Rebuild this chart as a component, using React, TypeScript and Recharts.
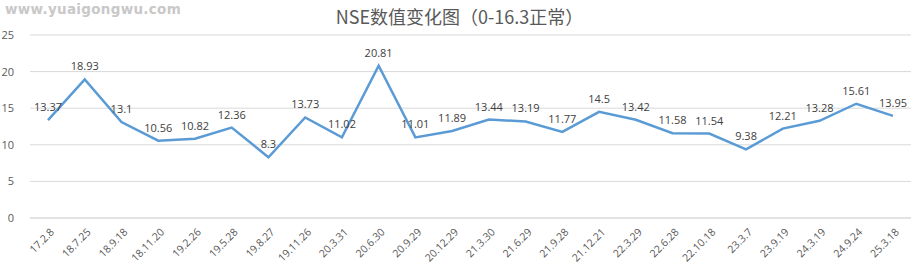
import React from "react";
import { LineChart, Line, CartesianGrid, XAxis, YAxis, LabelList } from "recharts";

const dates = [
  "17.2.8", "18.7.25", "18.9.18", "18.11.20", "19.2.26", "19.5.28", "19.8.27", "19.11.26",
  "20.3.31", "20.6.30", "20.9.29", "20.12.29", "21.3.30", "21.6.29", "21.9.28", "21.12.21",
  "22.3.29", "22.6.28", "22.10.18", "23.3.7", "23.9.19", "24.3.19", "24.9.24", "25.3.18",
];

const nse = [
  13.37, 18.93, 13.1, 10.56, 10.82, 12.36, 8.3, 13.73, 11.02, 20.81, 11.01, 11.89,
  13.44, 13.19, 11.77, 14.5, 13.42, 11.58, 11.54, 9.38, 12.21, 13.28, 15.61, 13.95,
];

const yTicks = [0, 5, 10, 15, 20, 25];

const data = dates.map((d, i) => ({ date: d, value: nse[i] }));

const XTick = (props: any) => {
  const { x, y, payload } = props;
  return (
    <g transform={`translate(${x + 4},${y + 4})`}>
      <text
        transform="rotate(-45)"
        textAnchor="end"
        fontSize={10.5}
        fill="#595959"
        fontFamily="'Open Sans', sans-serif"
        dy={4}
      >
        {payload.value}
      </text>
    </g>
  );
};

export default function App() {
  return (
    <div style={{ position: "absolute", left: 0, top: 0, width: 919, height: 270, background: "#fff" }}>
      <div
        style={{
          position: "absolute",
          left: 5,
          top: 1,
          fontFamily: "'DejaVu Sans', sans-serif",
          fontWeight: "bold",
          fontSize: 13.5,
          color: "#c8c8c8",
          letterSpacing: 0.3,
        }}
      >
        www.yuaigongwu.com
      </div>
      <div
        style={{
          position: "absolute",
          left: 0,
          top: 3,
          width: 919,
          textAlign: "center",
          fontFamily: "'Noto Sans CJK SC', sans-serif",
          fontSize: 18,
          color: "#595959",
        }}
      >
        NSE数值变化图（0-16.3正常）
      </div>
      <LineChart
        width={919}
        height={270}
        data={data}
        margin={{ top: 35, right: 8, bottom: 0, left: 0 }}
      >
        <CartesianGrid vertical={false} stroke="#d9d9d9" />
        <XAxis
          dataKey="date"
          interval={0}
          tickLine={false}
          axisLine={{ stroke: "#d9d9d9" }}
          tick={<XTick />}
          height={52}
          padding={{ left: 18, right: 18 }}
        />
        <YAxis
          domain={[0, 25]}
          ticks={yTicks}
          width={30}
          tickLine={false}
          axisLine={false}
          tick={{ fontSize: 11, fill: "#595959", fontFamily: "'Open Sans', sans-serif" }}
          tickMargin={10}
        />
        <Line
          type="linear"
          dataKey="value"
          stroke="#5b9bd5"
          strokeWidth={2.5}
          dot={false}
          isAnimationActive={false}
        >
          <LabelList
            dataKey="value"
            position="top"
            offset={9}
            fontSize={11}
            fill="#404040"
            fontFamily="'Open Sans', sans-serif"
          />
        </Line>
      </LineChart>
    </div>
  );
}
